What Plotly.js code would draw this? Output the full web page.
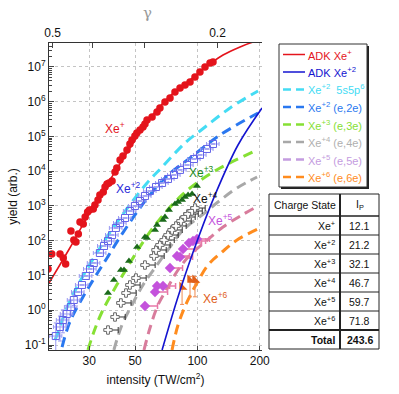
<!DOCTYPE html>
<html>
<head>
<meta charset="utf-8">
<script src="https://cdn.plot.ly/plotly-3.0.1.min.js"></script>
<style>
  body { margin: 0; background: #fff; }
  #chart { width: 399px; height: 394px; }
</style>
</head>
<body>
<div id="chart"></div>
<script>
// --- measured yields (intensity in TW/cm2, yield arb.) ---
const xe1I = [19.0, 19.8, 21.7, 22.5, 23.1, 24.5, 25.3, 25.9, 26.6, 27.1, 28.1, 28.7, 29.5, 30.1, 31.4, 32.0, 33.1, 33.8, 35.1, 35.8, 36.6, 37.4, 38.7, 40.0, 40.8, 42.3, 43.7, 45.7, 47.2, 48.3, 49.9, 51.0, 52.8, 54.6, 55.8, 57.1, 60.4, 63.8, 65.9, 69.7, 73.7, 77.9, 82.4, 87.1, 92.1, 97.3, 102.8, 108.8, 115.0, 118.9];
const xe1Y = [15.4, 41.6, 41.6, 31.9, 21.4, 191, 105, 92, 156, 347, 303, 482, 672, 767, 820, 1070, 1490, 2080, 2530, 3520, 4300, 4590, 5240, 9510, 12400, 21100, 27500, 40900, 60800, 79200, 103000, 126000, 154000, 188000, 229000, 299000, 364000, 507000, 661000, 984000, 1.28e6, 1.91e6, 2.49e6, 3.03e6, 3.70e6, 5.15e6, 7.18e6, 1.0e7, 1.30e7, 1.39e7];

const xe2I = [20.7, 21.7, 22.4, 23.4, 24.5, 25.3, 26.5, 27.7, 28.9, 30.3, 31.6, 33.8, 35.4, 37.0, 38.7, 40.4, 42.3, 44.7, 47.2, 49.9, 52.8, 55.8, 59.0, 63.1, 67.5, 72.1, 77.1, 82.4, 89.1, 96.3, 102.9, 111.2, 118.9];
const xe2Y = [0.181, 0.330, 0.524, 0.780, 1.24, 1.97, 3.35, 5.33, 9.68, 15.4, 22.9, 44.4, 70.6, 98.4, 146, 233, 324, 451, 718, 1000, 1390, 1940, 2700, 3520, 4590, 5990, 7800, 10900, 15100, 22500, 29400, 43700, 60800];
const xe2ErrPlus = [0.25, 0.35, 0.5, 0.6, 0.7, 0.8, 0, 0, 0, 0, 0, 0, 0, 0, 0, 0, 0, 0, 0, 0, 0, 0, 0, 0, 0, 0, 0, 0, 0, 0, 0, 0, 0];
const xe2ErrMinus = [0.12, 0.2, 0.3, 0.4, 0.5, 0.6, 0, 0, 0, 0, 0, 0, 0, 0, 0, 0, 0, 0, 0, 0, 0, 0, 0, 0, 0, 0, 0, 0, 0, 0, 0, 0, 0];

const xe3I = [37.0, 39.5, 42.7, 44.2, 46.7, 51.1, 55.8, 57.1, 62.4, 63.8, 68.2, 69.7, 72.9, 77.9, 80.6, 84.3, 87.1, 90.1, 94.2, 99.5];
const xe3Y = [3.13, 7.43, 14.4, 14.4, 26.1, 66.1, 128, 120, 204, 284, 395, 482, 767, 1140, 1300, 1490, 1820, 2080, 2220, 3770];

const xe4I = [37.0, 40.0, 42.7, 45.2, 47.2, 50.5, 55.8, 61.7, 63.1, 65.9, 69.0, 72.1, 75.4, 78.8, 83.3, 87.1, 90.1, 94.2, 97.3];
const xe4Y = [0.270, 0.640, 1.62, 3.13, 5.33, 8.47, 20.0, 36.4, 54.2, 75.5, 105, 146, 204, 266, 370, 482, 589, 718, 875];

const xe5I = [55.8, 62.4, 63.8, 68.2, 73.7, 79.7, 82.4, 85.2, 91.0, 95.2, 99.5];
const xe5Y = [1.32, 3.35, 4.99, 4.99, 16.4, 36.4, 34.1, 57.9, 86.1, 98.4, 112];

const xe6I = [84.3, 92.1, 97.3];
const xe6Y = [4.67, 7.43, 7.43];
const xe6ErrPlus = [2.5, 2.0, 2.0];
const xe6ErrMinus = [3.2, 5.0, 5.0];

// --- model curves ---
const adk1I = [19.2, 24.2, 30.3, 37.8, 47.2, 59.0, 73.7, 92.1, 115.0, 132.9, 160.6, 185.6];
const adk1Y = [6.08, 61.8, 672, 5600, 4.67e4, 3.40e5, 1.46e6, 4.23e6, 1.22e7, 2.21e7, 3.77e7, 5.24e7];
const adk2I = [67.5, 79.7, 94.2, 121.6, 157.0, 205.1];
const adk2Y = [0.0718, 1.97, 38.9, 2080, 5.69e4, 6.61e5];

const shakeI = [20.5, 21.0, 23.4, 26.5, 33.8, 42.3, 57.1, 67.5, 88.1, 102.9, 143.7, 196.2];
const shakeY = [0.139, 0.194, 1.16, 5.33, 61.8, 451, 4590, 13200, 69500, 1.44e5, 6.61e5, 2.04e6];
const e2I = [22.2, 24.2, 28.0, 32.0, 36.6, 42.3, 51.1, 59.0, 71.3, 92.1, 128.6, 196.2];
const e2Y = [0.0875, 0.459, 2.40, 9.06, 31.9, 128, 672, 2080, 7290, 24000, 1.10e5, 4.74e5];
const e3I = [29.6, 31.6, 34.6, 40.0, 45.7, 51.6, 59.0, 69.7, 84.3, 100.6, 128.6, 194.1];
const e3Y = [0.0718, 0.237, 0.891, 4.37, 16.4, 54.2, 179, 629, 2080, 4910, 12400, 40900];
const e4I = [39.5, 43.2, 48.3, 54.6, 63.8, 73.7, 85.2, 105.2, 125.7, 155.3, 194.1];
const e4Y = [0.0718, 0.376, 1.42, 5.33, 20.0, 66.1, 204, 551, 1300, 3300, 6830];
const e5I = [55.2, 59.0, 64.5, 72.1, 80.6, 92.1, 108.8, 132.9, 164.2, 196.2];
const e5Y = [0.0718, 0.308, 1.42, 4.67, 14.4, 38.9, 92.0, 249, 551, 1000];
const e6I = [75.4, 80.6, 89.1, 99.5, 112.5, 131.5, 155.3, 196.2];
const e6Y = [0.0718, 0.376, 1.73, 6.08, 20.0, 47.4, 105, 218];

// --- ionisation potentials table ---
const chargeStates = ['Xe<sup>+</sup>', 'Xe<sup>+2</sup>', 'Xe<sup>+3</sup>', 'Xe<sup>+4</sup>', 'Xe<sup>+5</sup>', 'Xe<sup>+6</sup>', '<b>Total</b>'];
const ipValues = ['12.1', '21.2', '32.1', '46.7', '59.7', '71.8', '<b>243.6</b>'];
const tableHeader = ['Charge State', 'I<sub>P</sub>'];

// --- axis ticks ---
const intensityTicks = [30, 50, 100, 200];
const yieldTicks = [0.1, 1, 10, 100, 1e3, 1e4, 1e5, 1e6, 1e7];
const yieldTickText = ['10<sup>-1</sup>', '10<sup>0</sup>', '10<sup>1</sup>', '10<sup>2</sup>', '10<sup>3</sup>', '10<sup>4</sup>', '10<sup>5</sup>', '10<sup>6</sup>', '10<sup>7</sup>'];
const gammaTicks = [0.5, 0.4, 0.3, 0.2];
const gammaTickText = ['0.5', '', '', '0.2'];
const gammaConst = 5.0; // I (TW/cm2) = gammaConst / gamma^2

const FONT = 'Arial, "Liberation Sans", sans-serif';
const W = 399, H = 394;
const M = { l: 49, r: 20, t: 43, b: 44 };
const xRange = [Math.log10(19.2), Math.log10(205)];
const yRange = [-1.144, 7.69];

// pixel -> paper helpers (for the side legend and table)
const px = v => (v - M.l) / (W - M.l - M.r);
const py = v => (H - M.b - v) / (H - M.t - M.b);

const RED = '#e4141c', BLUE = '#1414d0';
const dashStyle = '10px,6px';

function curve(x, y, color, dash) {
  return {
    x: x, y: y, type: 'scatter', mode: 'lines', showlegend: false,
    line: { color: color, width: dash ? 3 : 1.6, dash: dash || 'solid', shape: 'spline' },
    hoverinfo: 'skip'
  };
}

function points(x, y, marker, extra) {
  return Object.assign({
    x: x, y: y, type: 'scatter', mode: 'markers', showlegend: false,
    marker: marker, hoverinfo: 'skip'
  }, extra || {});
}

// legend entries: label, line colour, text colour, dashed?
const legendItems = [
  ['ADK Xe<sup>+</sup>', RED, RED, false],
  ['ADK Xe<sup>+2</sup>', BLUE, BLUE, false],
  ['Xe<sup>+2</sup>  5s5p<sup>6</sup>', '#44dcf4', '#44dcf4', true],
  ['Xe<sup>+2</sup> (e,2e)', '#2a78f0', '#2a78f0', true],
  ['Xe<sup>+3</sup> (e,3e)', '#86e034', '#86e034', true],
  ['Xe<sup>+4</sup> (e,4e)', '#a8a8a8', '#b0b0b0', true],
  ['Xe<sup>+5</sup> (e,5e)', '#c49ce0', '#c49ce0', true],
  ['Xe<sup>+6</sup> (e,6e)', '#ff8c1e', '#ff8c1e', true]
];

const traces = [
  curve(shakeI, shakeY, '#44dcf4', dashStyle),
  curve(e2I, e2Y, '#2a78f0', dashStyle),
  curve(e3I, e3Y, '#86e034', dashStyle),
  curve(e4I, e4Y, '#a8a8a8', dashStyle),
  curve(e5I, e5Y, '#d87c9c', dashStyle),
  curve(e6I, e6Y, '#ff8c1e', dashStyle),

  points(xe2I, xe2Y, { symbol: 'square-open', size: 7, color: '#6464e8', line: { width: 1 } }, {
    error_x: { type: 'percent', value: 7, color: '#9a9af2', thickness: 1, width: 2 },
    error_y: { type: 'data', symmetric: false, array: xe2ErrPlus, arrayminus: xe2ErrMinus, color: '#9a9af2', thickness: 1, width: 2 }
  }),
  points(xe3I, xe3Y, { symbol: 'triangle-up', size: 7, color: '#1b6a1b' }),
  points(xe4I, xe4Y, { symbol: 'cross', size: 7, color: '#ffffff', line: { color: '#666', width: 1 } }, {
    error_x: { type: 'percent', symmetric: false, value: 12, valueminus: 0, color: '#333', thickness: 1, width: 3 }
  }),
  points(xe5I, xe5Y, { symbol: 'diamond', size: 8, color: '#c452dc' }, {
    error_x: { type: 'percent', symmetric: false, value: 15, valueminus: 0, color: '#e878a8', thickness: 1.5, width: 3 }
  }),
  points(xe6I, xe6Y, { symbol: 'triangle-sw', size: 9, color: '#e0601a' }, {
    error_y: { type: 'data', symmetric: false, array: xe6ErrPlus, arrayminus: xe6ErrMinus, color: '#f08a50', thickness: 1, width: 2 }
  }),
  points(xe1I, xe1Y, { symbol: 'circle', size: 7.5, color: RED }),

  curve(adk1I, adk1Y, RED, null),
  curve(adk2I, adk2Y, BLUE, null),

  // empty trace so the top γ axis gets drawn
  { x: [], y: [], type: 'scatter', mode: 'markers', xaxis: 'x2', yaxis: 'y', showlegend: false, hoverinfo: 'skip' }
];

function labelAt(I, Y, text, color) {
  return {
    x: Math.log10(I), y: Math.log10(Y), xref: 'x', yref: 'y', text: text,
    showarrow: false, font: { family: FONT, size: 12, color: color }
  };
}

const shapes = [];
const notes = [];

// γ label over the top axis
notes.push({ xref: 'paper', yref: 'paper', x: px(147), y: py(13), xanchor: 'center', yanchor: 'middle',
  text: 'γ', showarrow: false, font: { family: '"DejaVu Serif", serif', size: 15, color: '#999' } });

// legend box with drop shadow
const legL = 279, legR = 367, legT = 44, legB = 187, legStep = 17.5, legFirst = 54.5;
shapes.push({ type: 'rect', xref: 'paper', yref: 'paper', x0: px(legL + 2), x1: px(legR + 2), y0: py(legB + 2), y1: py(legT + 2),
  fillcolor: '#222', line: { width: 0 } });
shapes.push({ type: 'rect', xref: 'paper', yref: 'paper', x0: px(legL), x1: px(legR), y0: py(legB), y1: py(legT),
  fillcolor: '#fff', line: { color: '#333', width: 1 } });
legendItems.forEach(([label, lineColor, textColor, dashed], i) => {
  const y = legFirst + i * legStep;
  shapes.push({ type: 'line', xref: 'paper', yref: 'paper', x0: px(283), x1: px(305), y0: py(y), y1: py(y),
    line: { color: lineColor, width: dashed ? 2.5 : 1.5, dash: dashed ? '8px,5px' : 'solid' } });
  notes.push({ xref: 'paper', yref: 'paper', x: px(306), y: py(y), xanchor: 'left', yanchor: 'middle',
    text: label, showarrow: false, font: { family: FONT, size: 11, color: textColor } });
});

// side table
const tableLeft = 269, tableMid = 340, tableRight = 379;
const tableTop = 194, headerH = 22, rowH = 19;
const tableBottom = tableTop + headerH + rowH * chargeStates.length;
const cellFont = { family: FONT, size: 10.5, color: '#111' };
function hline(y, w) {
  shapes.push({ type: 'line', xref: 'paper', yref: 'paper', x0: px(tableLeft), x1: px(tableRight),
    y0: py(y), y1: py(y), line: { color: '#222', width: w } });
}
hline(tableTop, 1);
hline(tableTop + headerH, 1.5);
chargeStates.forEach((s, i) => {
  const yTop = tableTop + headerH + i * rowH;
  if (i > 0) hline(yTop, i === chargeStates.length - 1 ? 2 : 1);
  notes.push({ xref: 'paper', yref: 'paper', x: px(tableMid - 3), y: py(yTop + rowH / 2), xanchor: 'right', yanchor: 'middle',
    text: s, showarrow: false, font: cellFont });
  notes.push({ xref: 'paper', yref: 'paper', x: px((tableMid + tableRight) / 2), y: py(yTop + rowH / 2), xanchor: 'center', yanchor: 'middle',
    text: ipValues[i], showarrow: false, font: cellFont });
});
hline(tableBottom, 1);
[[tableLeft, 1], [tableMid, 2], [tableRight, 1]].forEach(([x, w]) => {
  shapes.push({ type: 'line', xref: 'paper', yref: 'paper', x0: px(x), x1: px(x),
    y0: py(tableTop), y1: py(tableBottom), line: { color: '#222', width: w } });
});
notes.push({ xref: 'paper', yref: 'paper', x: px((tableLeft + tableMid) / 2), y: py(tableTop + headerH / 2), xanchor: 'center', yanchor: 'middle',
  text: tableHeader[0], showarrow: false, font: cellFont });
notes.push({ xref: 'paper', yref: 'paper', x: px((tableMid + tableRight) / 2), y: py(tableTop + headerH / 2), xanchor: 'center', yanchor: 'middle',
  text: tableHeader[1], showarrow: false, font: cellFont });

const layout = {
  width: W, height: H,
  margin: M,
  paper_bgcolor: '#fff', plot_bgcolor: '#fff',
  font: { family: FONT, size: 12, color: '#111' },
  showlegend: false,
  xaxis: {
    type: 'log', range: xRange, domain: [0, px(262)],
    tickmode: 'array', tickvals: intensityTicks, ticktext: intensityTicks.map(String),
    ticks: 'inside', ticklen: 4, tickfont: { size: 12 },
    showline: true, linecolor: '#333', linewidth: 1,
    showgrid: true, gridcolor: '#c4c4c4', griddash: 'dot', zeroline: false,
    title: { text: 'intensity (TW/cm<sup>2</sup>)', font: { size: 12 }, standoff: 8 }
  },
  xaxis2: {
    type: 'log', range: xRange, overlaying: 'x', anchor: 'y', side: 'top',
    tickmode: 'array', tickvals: gammaTicks.map(g => gammaConst / (g * g)), ticktext: gammaTickText,
    ticks: 'inside', ticklen: 5, tickfont: { size: 12 },
    showline: true, linecolor: '#333', linewidth: 1, showgrid: false, zeroline: false
  },
  yaxis: {
    type: 'log', range: yRange,
    tickmode: 'array', tickvals: yieldTicks, ticktext: yieldTickText,
    ticks: 'inside', ticklen: 5, tickfont: { size: 12 },
    minor: { ticks: 'inside', ticklen: 3, dtick: 'D1', showgrid: false },
    showline: true, linecolor: '#333', linewidth: 1,
    showgrid: true, gridcolor: '#c4c4c4', griddash: 'dot', zeroline: false,
    title: { text: 'yield (arb.)', font: { size: 12 }, standoff: 4 }
  },
  yaxis2: {
    type: 'log', range: yRange, overlaying: 'y', anchor: 'x', side: 'right',
    showline: true, linecolor: '#a0a0a0', linewidth: 2,
    showticklabels: false, ticks: '', showgrid: false, zeroline: false
  },
  shapes: shapes,
  annotations: [
    labelAt(40, 1.75e5, 'Xe<sup>+</sup>', RED),
    labelAt(46.4, 3230, 'Xe<sup>+2</sup>', '#2a2ad8'),
    labelAt(105, 9700, 'Xe<sup>+3</sup>', '#1b8a1b'),
    labelAt(108.8, 1670, 'Xe<sup>+4</sup>', '#111'),
    labelAt(128.6, 395, 'Xe<sup>+5</sup>', '#c452dc'),
    labelAt(121.6, 2.28, 'Xe<sup>+6</sup>', '#e0601a')
  ].concat(notes)
};

Plotly.newPlot('chart', traces, layout, { displayModeBar: false, staticPlot: true });
</script>
</body>
</html>
